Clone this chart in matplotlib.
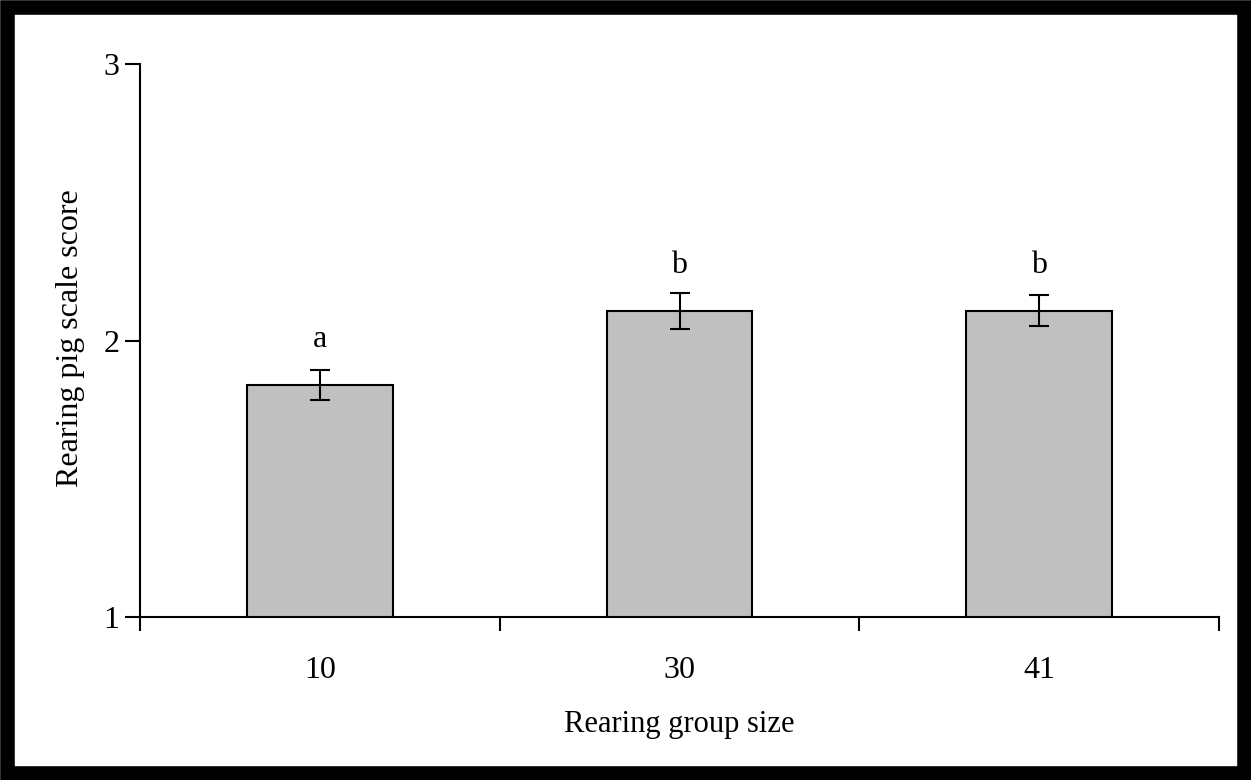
import matplotlib
matplotlib.use("Agg")
import matplotlib.pyplot as plt
from matplotlib.patches import Rectangle
import numpy as np

categories = ["10", "30", "41"]
means = [1.84, 2.107, 2.107]
errors = [0.055, 0.066, 0.056]
letters = ["a", "b", "b"]

plt.rcParams['font.family'] = ['Liberation Serif', 'DejaVu Serif']

W, H = 1251, 780
fig = plt.figure(figsize=(W/100, H/100), dpi=100)
ax = fig.add_axes([140/W, 1-617/H, (1219-140)/W, (617-64)/H])

x = np.arange(len(categories))
ax.bar(x, means, width=0.405, color='#c0c0c0', edgecolor='black', linewidth=1.5, zorder=2)
ax.errorbar(x, means, yerr=errors, fmt='none', ecolor='black', elinewidth=1.5,
            capsize=7, capthick=1.5, zorder=3)
for xi, m, l in zip(x, means, letters):
    ax.annotate(l, (xi, m), xytext=(0, 27.4), textcoords='offset points',
                ha='center', va='baseline', fontsize=23)

ax.set_xlim(-0.5, 2.5)
ax.set_ylim(1, 3)
ax.set_yticks([1, 2, 3])
ax.set_yticklabels(['1', '2', '3'], fontsize=23)
ax.set_xticks([-0.5, 0.5, 1.5, 2.5])
ax.set_xticklabels([])
ax.set_xticks(x, minor=True)
ax.set_xticklabels(categories, minor=True, fontsize=23)
ax.tick_params(axis='x', which='minor', length=0, pad=28)
ax.tick_params(axis='x', which='major', length=10, width=1.5, direction='out')
ax.tick_params(axis='y', length=11, width=1.5, direction='out', pad=4)
for s in ['top', 'right']:
    ax.spines[s].set_visible(False)
for s in ['left', 'bottom']:
    ax.spines[s].set_linewidth(1.5)

ax.set_xlabel('Rearing group size', fontsize=22)
ax.xaxis.set_label_coords(0.5, (617-710)/553)
ax.xaxis.label.set_va('top')
ax.set_ylabel('Rearing pig scale score', fontsize=23)
ax.yaxis.set_label_coords((71-140)/1079, (617-338)/553)
ax.yaxis.label.set_va('center')

fig.patches.append(Rectangle((7/W, 7/H), 1-14/W, 1-14/H, transform=fig.transFigure,
                             fill=False, edgecolor='black', linewidth=10.5, zorder=10))

fig.savefig('out.png', dpi=100)
